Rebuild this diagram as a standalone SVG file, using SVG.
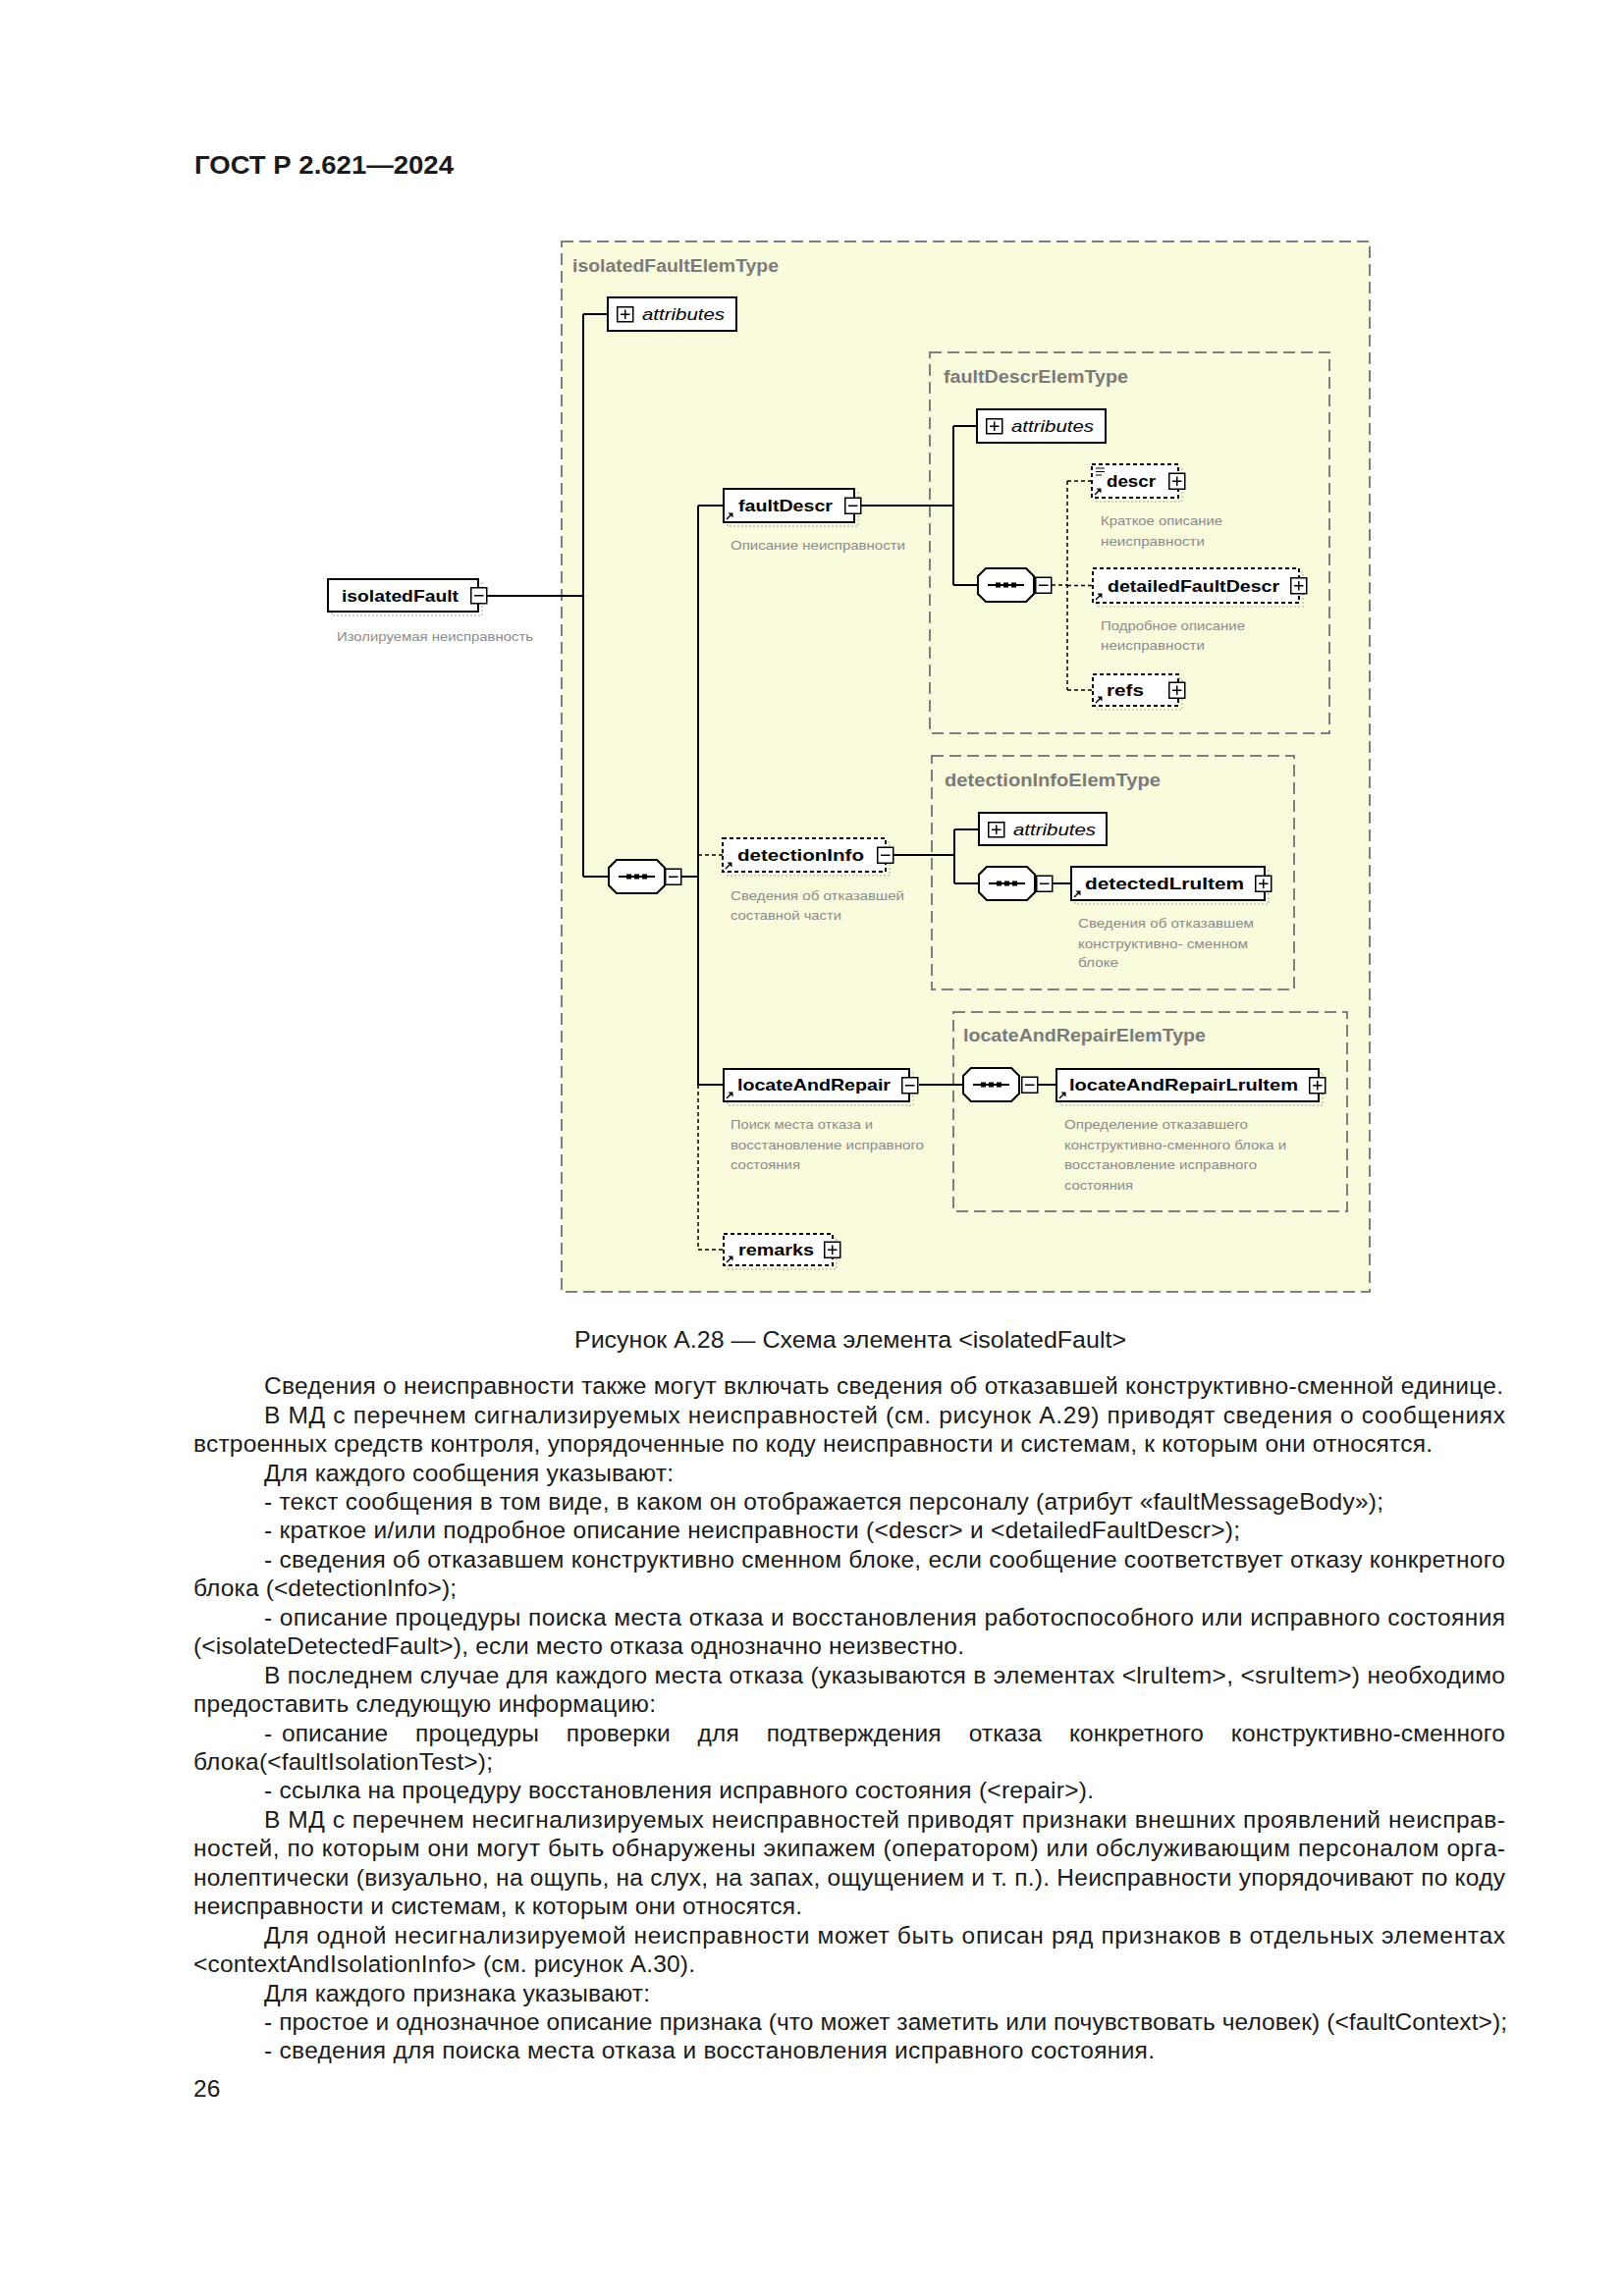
<svg xmlns="http://www.w3.org/2000/svg" xmlns:xlink="http://www.w3.org/1999/xlink" width="1654" height="2339" viewBox="0 0 1654 2339">
<style>
text{font-family:"Liberation Sans",Arial,sans-serif}
.hdr{font-size:26px;font-weight:bold;fill:#1a1a1a}
.body{font-size:24.5px;fill:#1a1a1a}
.name{font-weight:bold;font-size:17px;fill:#000}
.ttl{font-weight:bold;font-size:18px;fill:#7a7a7a}
.lbl{font-size:13.5px;fill:#8c8c8c}
.attr{font-style:italic;font-size:17px;fill:#000}
.type{fill:#fafadc;stroke:#7f7f7f;stroke-width:2;stroke-dasharray:12 6}
.el{fill:#fff;stroke:#000;stroke-width:2}
.opt{stroke-dasharray:4 3}
.shd{fill:none;stroke:#c4c4c4;stroke-width:1.5;stroke-dasharray:2 2}
.btn{fill:#fff;stroke:#000;stroke-width:1.5}
.ln{stroke:#000;stroke-width:2;fill:none}
.dl{stroke:#000;stroke-width:1.5;stroke-dasharray:4 3;fill:none}
</style>
<defs>
<g id="pbtn"><rect x="0.75" y="0.75" width="16" height="16" class="btn"/><path d="M4 8.75H13.5M8.75 4V13.5" stroke="#000" stroke-width="1.5"/></g>
<g id="mbtn"><rect x="0.75" y="0.75" width="16" height="16" class="btn"/><path d="M4 8.75H13.5" stroke="#000" stroke-width="1.5"/></g>
<g id="seq"><path d="M8 0H49L57 8V26L49 34H8L0 26V8Z" fill="#fff" stroke="#000" stroke-width="2"/><path d="M10 17H47" stroke="#000" stroke-width="2"/><rect x="18" y="14.5" width="5" height="5" fill="#000"/><rect x="26" y="14.5" width="5" height="5" fill="#000"/><rect x="34" y="14.5" width="5" height="5" fill="#000"/></g>
<g id="arr"><path d="M1 -1L6 -6" stroke="#000" stroke-width="1.5"/><path d="M7.5 -7.5L2.5 -7.5L7.5 -2.5Z" fill="#000"/></g>
<g id="abtn"><rect x="0.75" y="0.75" width="16" height="15" class="btn"/><path d="M4 8.25H13.5M8.75 3.5V13" stroke="#000" stroke-width="1.5"/></g>
</defs>
<rect width="1654" height="2339" fill="#fff"/>
<text class="hdr" x="198" y="177" textLength="264" lengthAdjust="spacingAndGlyphs">ГОСТ Р 2.621—2024</text>

<!-- type containers -->
<g id="isolatedFaultElemType">
<rect class="type" x="572" y="246" width="823" height="1070"/>
<text class="ttl" x="583" y="277" textLength="210" lengthAdjust="spacingAndGlyphs">isolatedFaultElemType</text>
</g>
<g id="faultDescrElemType">
<rect class="type" x="947" y="359" width="407" height="388"/>
<text class="ttl" x="961" y="390" textLength="188" lengthAdjust="spacingAndGlyphs">faultDescrElemType</text>
</g>
<g id="detectionInfoElemType">
<rect class="type" x="949" y="770" width="369" height="238"/>
<text class="ttl" x="962" y="801" textLength="220" lengthAdjust="spacingAndGlyphs">detectionInfoElemType</text>
</g>
<g id="locateAndRepairElemType">
<rect class="type" x="971" y="1031" width="401" height="203"/>
<text class="ttl" x="981" y="1061" textLength="247" lengthAdjust="spacingAndGlyphs">locateAndRepairElemType</text>
</g>

<!-- connectors -->
<g id="connectors">
<path class="ln" d="M496 607H594M594 320V893M594 320H619M594 893H620M694 893H711M711 515V1105M711 515H737M711 1105H737"/>
<path class="dl" d="M711 871H736M711 1105V1273H737"/>
<path class="ln" d="M877 515H971M971 434V596M971 434H995M971 596H996"/>
<path class="dl" d="M1071 596H1087M1087 490V703M1087 490H1112M1087 596.5H1113M1087 703H1113"/>
<path class="ln" d="M910 871H972M972 845V900M972 845H997M972 900H997M1072 900H1091"/>
<path class="ln" d="M936 1105H981M1057 1105H1076"/>
</g>

<!-- attributes boxes -->
<g id="attributes-top">
<rect class="el" x="619" y="303" width="131" height="34"/>
<use xlink:href="#abtn" x="628" y="312"/>
<text class="attr" x="654" y="326" textLength="84" lengthAdjust="spacingAndGlyphs">attributes</text>
</g>
<g id="attributes-faultDescr">
<rect class="el" x="995" y="417" width="131" height="34"/>
<use xlink:href="#abtn" x="1004" y="426"/>
<text class="attr" x="1030" y="440" textLength="84" lengthAdjust="spacingAndGlyphs">attributes</text>
</g>
<g id="attributes-detectionInfo">
<rect class="el" x="997" y="828" width="130" height="33"/>
<use xlink:href="#abtn" x="1006" y="837"/>
<text class="attr" x="1032" y="851" textLength="84" lengthAdjust="spacingAndGlyphs">attributes</text>
</g>

<!-- sequences -->
<g id="seq-top"><use xlink:href="#seq" x="620" y="876"/><use xlink:href="#mbtn" x="677" y="884.5"/></g>
<g id="seq-faultDescr"><use xlink:href="#seq" x="996" y="579"/><use xlink:href="#mbtn" x="1054" y="587.5"/></g>
<g id="seq-detectionInfo"><use xlink:href="#seq" x="997" y="883"/><use xlink:href="#mbtn" x="1055" y="891.5"/></g>
<g id="seq-locateAndRepair"><use xlink:href="#seq" x="981" y="1088"/><use xlink:href="#mbtn" x="1040" y="1096.5"/></g>

<!-- elements -->
<g id="isolatedFault">
<rect class="shd" x="338" y="594" width="153" height="33"/>
<rect class="el" x="334" y="590" width="153" height="33"/>
<text class="name" x="348" y="613" textLength="119" lengthAdjust="spacingAndGlyphs">isolatedFault</text>
<use xlink:href="#mbtn" x="479" y="598"/>
<text class="lbl" x="343" y="653" textLength="200" lengthAdjust="spacingAndGlyphs">Изолируемая неисправность</text>
</g>
<g id="faultDescr">
<rect class="shd" x="741" y="502" width="133" height="34"/>
<rect class="el" x="737" y="498" width="133" height="34"/>
<use xlink:href="#arr" x="739" y="530"/>
<text class="name" x="752" y="521" textLength="96" lengthAdjust="spacingAndGlyphs">faultDescr</text>
<use xlink:href="#mbtn" x="860" y="506.5"/>
<text class="lbl" x="744" y="560" textLength="178" lengthAdjust="spacingAndGlyphs">Описание неисправности</text>
</g>
<g id="detectionInfo">
<rect class="shd" x="740" y="858" width="166" height="34"/>
<rect class="el opt" x="736" y="854" width="166" height="34"/>
<use xlink:href="#arr" x="738" y="886"/>
<text class="name" x="751" y="877" textLength="129" lengthAdjust="spacingAndGlyphs">detectionInfo</text>
<use xlink:href="#mbtn" x="893" y="862.5"/>
<text class="lbl" x="744" y="917" textLength="177" lengthAdjust="spacingAndGlyphs">Сведения об отказавшей</text>
<text class="lbl" x="744" y="937" textLength="113" lengthAdjust="spacingAndGlyphs">составной части</text>
</g>
<g id="locateAndRepair">
<rect class="shd" x="741" y="1093" width="189" height="33"/>
<rect class="el" x="737" y="1089" width="189" height="33"/>
<use xlink:href="#arr" x="739" y="1120"/>
<text class="name" x="751" y="1111" textLength="156" lengthAdjust="spacingAndGlyphs">locateAndRepair</text>
<use xlink:href="#mbtn" x="918" y="1097"/>
<text class="lbl" x="744" y="1150" textLength="145" lengthAdjust="spacingAndGlyphs">Поиск места отказа и</text>
<text class="lbl" x="744" y="1171" textLength="197" lengthAdjust="spacingAndGlyphs">восстановление исправного</text>
<text class="lbl" x="744" y="1191" textLength="71" lengthAdjust="spacingAndGlyphs">состояния</text>
</g>
<g id="remarks">
<rect class="shd" x="741" y="1261" width="111" height="32"/>
<rect class="el opt" x="737" y="1257" width="111" height="32"/>
<use xlink:href="#arr" x="739" y="1287"/>
<text class="name" x="752" y="1279" textLength="77" lengthAdjust="spacingAndGlyphs">remarks</text>
<use xlink:href="#pbtn" x="839" y="1264.5"/>
</g>
<g id="descr">
<rect class="shd" x="1116" y="477" width="88" height="34"/>
<rect class="el opt" x="1112" y="473" width="88" height="34"/>
<path d="M1116 477h9M1116 480.5h9M1116 484h6" stroke="#000" stroke-width="1.2"/>
<use xlink:href="#arr" x="1114" y="505"/>
<text class="name" x="1127" y="496" textLength="50" lengthAdjust="spacingAndGlyphs">descr</text>
<use xlink:href="#pbtn" x="1190" y="481.5"/>
<text class="lbl" x="1121" y="535" textLength="124" lengthAdjust="spacingAndGlyphs">Краткое описание</text>
<text class="lbl" x="1121" y="556" textLength="106" lengthAdjust="spacingAndGlyphs">неисправности</text>
</g>
<g id="detailedFaultDescr">
<rect class="shd" x="1117" y="583" width="210" height="35"/>
<rect class="el opt" x="1113" y="579" width="210" height="35"/>
<use xlink:href="#arr" x="1115" y="612"/>
<text class="name" x="1128" y="603" textLength="175" lengthAdjust="spacingAndGlyphs">detailedFaultDescr</text>
<use xlink:href="#pbtn" x="1314" y="588"/>
<text class="lbl" x="1121" y="642" textLength="147" lengthAdjust="spacingAndGlyphs">Подробное описание</text>
<text class="lbl" x="1121" y="662" textLength="106" lengthAdjust="spacingAndGlyphs">неисправности</text>
</g>
<g id="refs">
<rect class="shd" x="1117" y="691" width="87" height="32"/>
<rect class="el opt" x="1113" y="687" width="87" height="32"/>
<use xlink:href="#arr" x="1115" y="717"/>
<text class="name" x="1127" y="709" textLength="38" lengthAdjust="spacingAndGlyphs">refs</text>
<use xlink:href="#pbtn" x="1190" y="694.5"/>
</g>
<g id="detectedLruItem">
<rect class="shd" x="1095" y="887" width="197" height="34"/>
<rect class="el" x="1091" y="883" width="197" height="34"/>
<use xlink:href="#arr" x="1093" y="915"/>
<text class="name" x="1105" y="906" textLength="162" lengthAdjust="spacingAndGlyphs">detectedLruItem</text>
<use xlink:href="#pbtn" x="1278" y="891.5"/>
<text class="lbl" x="1098" y="945" textLength="179" lengthAdjust="spacingAndGlyphs">Сведения об отказавшем</text>
<text class="lbl" x="1098" y="966" textLength="173" lengthAdjust="spacingAndGlyphs">конструктивно- сменном</text>
<text class="lbl" x="1098" y="985" textLength="41" lengthAdjust="spacingAndGlyphs">блоке</text>
</g>
<g id="locateAndRepairLruItem">
<rect class="shd" x="1080" y="1093" width="267" height="33"/>
<rect class="el" x="1076" y="1089" width="267" height="33"/>
<use xlink:href="#arr" x="1078" y="1120"/>
<text class="name" x="1089" y="1111" textLength="233" lengthAdjust="spacingAndGlyphs">locateAndRepairLruItem</text>
<use xlink:href="#pbtn" x="1333" y="1097"/>
<text class="lbl" x="1084" y="1150" textLength="187" lengthAdjust="spacingAndGlyphs">Определение отказавшего</text>
<text class="lbl" x="1084" y="1171" textLength="226" lengthAdjust="spacingAndGlyphs">конструктивно-сменного блока и</text>
<text class="lbl" x="1084" y="1191" textLength="196" lengthAdjust="spacingAndGlyphs">восстановление исправного</text>
<text class="lbl" x="1084" y="1212" textLength="70" lengthAdjust="spacingAndGlyphs">состояния</text>
</g>

<!-- caption and body -->
<text class="body" x="585" y="1373" textLength="562" lengthAdjust="spacingAndGlyphs">Рисунок А.28 — Схема элемента &lt;isolatedFault&gt;</text>
<g class="body">
<text class="body" x="269" y="1420" textLength="1262" lengthAdjust="spacing">Сведения о неисправности также могут включать сведения об отказавшей конструктивно-сменной единице.</text>
<text class="body" x="269" y="1449.5" textLength="1264" lengthAdjust="spacing">В МД с перечнем сигнализируемых неисправностей (см. рисунок А.29) приводят сведения о сообщениях</text>
<text class="body" x="197" y="1479" textLength="1262" lengthAdjust="spacing">встроенных средств контроля, упорядоченные по коду неисправности и системам, к которым они относятся.</text>
<text class="body" x="269" y="1508.5" textLength="417" lengthAdjust="spacing">Для каждого сообщения указывают:</text>
<text class="body" x="269" y="1538" textLength="1140" lengthAdjust="spacing">- текст сообщения в том виде, в каком он отображается персоналу (атрибут «faultMessageBody»);</text>
<text class="body" x="269" y="1567" textLength="994" lengthAdjust="spacing">- краткое и/или подробное описание неисправности (&lt;descr&gt; и &lt;detailedFaultDescr&gt;);</text>
<text class="body" x="269" y="1596.5" textLength="1264" lengthAdjust="spacing">- сведения об отказавшем конструктивно сменном блоке, если сообщение соответствует отказу конкретного</text>
<text class="body" x="197" y="1626" textLength="268" lengthAdjust="spacing">блока (&lt;detectionInfo&gt;);</text>
<text class="body" x="269" y="1655.5" textLength="1264" lengthAdjust="spacing">- описание процедуры поиска места отказа и восстановления работоспособного или исправного состояния</text>
<text class="body" x="197" y="1685" textLength="785" lengthAdjust="spacing">(&lt;isolateDetectedFault&gt;), если место отказа однозначно неизвестно.</text>
<text class="body" x="269" y="1714.5" textLength="1264" lengthAdjust="spacing">В последнем случае для каждого места отказа (указываются в элементах &lt;lruItem&gt;, &lt;sruItem&gt;) необходимо</text>
<text class="body" x="197" y="1744" textLength="471" lengthAdjust="spacing">предоставить следующую информацию:</text>
<text class="body" x="269" y="1773.5">-</text>
<text class="body" x="287" y="1773.5" word-spacing="21" textLength="1246" lengthAdjust="spacing">описание процедуры проверки для подтверждения отказа конкретного конструктивно-сменного</text>
<text class="body" x="197" y="1803" textLength="305" lengthAdjust="spacing">блока(&lt;faultIsolationTest&gt;);</text>
<text class="body" x="269" y="1832" textLength="845" lengthAdjust="spacing">- ссылка на процедуру восстановления исправного состояния (&lt;repair&gt;).</text>
<text class="body" x="269" y="1861.5" textLength="1264" lengthAdjust="spacing">В МД с перечнем несигнализируемых неисправностей приводят признаки внешних проявлений неисправ-</text>
<text class="body" x="197" y="1891" textLength="1336" lengthAdjust="spacing">ностей, по которым они могут быть обнаружены экипажем (оператором) или обслуживающим персоналом орга-</text>
<text class="body" x="197" y="1920.5" textLength="1336" lengthAdjust="spacing">нолептически (визуально, на ощупь, на слух, на запах, ощущением и т. п.). Неисправности упорядочивают по коду</text>
<text class="body" x="197" y="1950" textLength="620" lengthAdjust="spacing">неисправности и системам, к которым они относятся.</text>
<text class="body" x="269" y="1979.5" textLength="1264" lengthAdjust="spacing">Для одной несигнализируемой неисправности может быть описан ряд признаков в отдельных элементах</text>
<text class="body" x="197" y="2009" textLength="511" lengthAdjust="spacing">&lt;contextAndIsolationInfo&gt; (см. рисунок А.30).</text>
<text class="body" x="269" y="2038.5" textLength="393" lengthAdjust="spacing">Для каждого признака указывают:</text>
<text class="body" x="269" y="2068" textLength="1266" lengthAdjust="spacing">- простое и однозначное описание признака (что может заметить или почувствовать человек) (&lt;faultContext&gt;);</text>
<text class="body" x="269" y="2097" textLength="907" lengthAdjust="spacing">- сведения для поиска места отказа и восстановления исправного состояния.</text>
</g>
<text class="body" x="197" y="2136">26</text>
</svg>
